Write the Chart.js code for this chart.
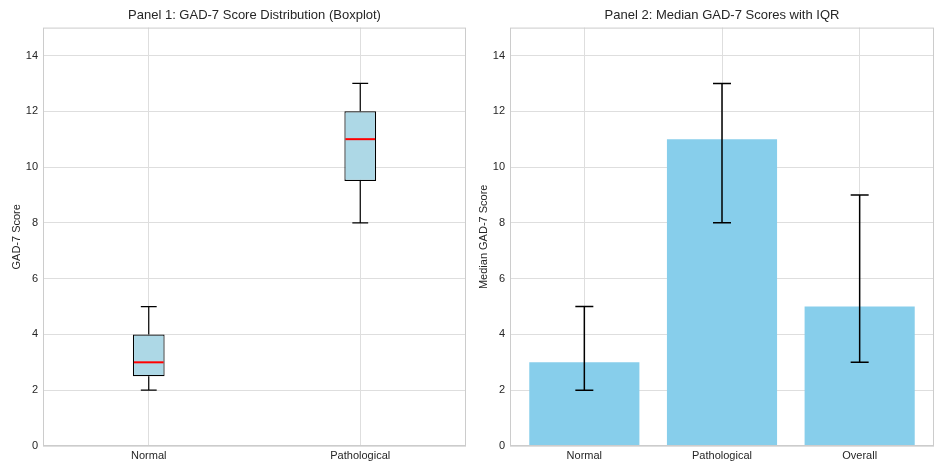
<!DOCTYPE html>
<html>
<head>
<meta charset="utf-8">
<script src="https://cdn.jsdelivr.net/npm/chart.js@4.4.1/dist/chart.umd.min.js"></script>
<style>
  html, body { margin: 0; padding: 0; background: #fff; }
  #wrap { position: relative; width: 945px; height: 473px; }
  #c1 { position: absolute; left: 0; top: 0; }
  #c2 { position: absolute; left: 472px; top: 0; }
</style>
</head>
<body>
<div id="wrap">
  <canvas id="c1" width="472" height="473"></canvas>
  <canvas id="c2" width="473" height="473"></canvas>
</div>
<script>
// Panel 1: boxplot values
const groups1 = ["Normal", "Pathological"];
const q1 = [2.5, 9.5];
const q3 = [4, 12];
const medians = [3, 11];
const whiskLow = [2, 8];
const whiskHigh = [5, 13];

// Panel 2: median scores with IQR
const groups2 = ["Normal", "Pathological", "Overall"];
const medianScores = [3, 11, 5];
const iqrLow = [2, 8, 3];
const iqrHigh = [5, 13, 9];

const yTicks = [0, 2, 4, 6, 8, 10, 12, 14];

Chart.defaults.font.family = "'Liberation Sans', Arial, sans-serif";
Chart.defaults.color = "#262626";

const gridColor = "#dedede";
const frameColor = "#cccccc";

// cadre complet autour de la zone de tracé
const framePlugin = {
    id: "frame",
    afterDraw(chart) {
        const { ctx, chartArea: a } = chart;
        ctx.save();
        ctx.strokeStyle = frameColor;
        ctx.lineWidth = 1;
        ctx.strokeRect(a.left + 0.5, a.top + 0.5, a.right - a.left - 1, a.bottom - a.top - 1);
        ctx.restore();
    }
};

function yScale(title, width, titlePad) {
    return {
        min: 0,
        max: 15,
        afterFit: s => { s.width = width; },
        afterBuildTicks: s => { s.ticks = yTicks.map(v => ({ value: v })); },
        ticks: { padding: 5, font: { size: 11 }, color: "#262626" },
        grid: { color: gridColor, drawTicks: false },
        border: { display: false },
        title: { display: true, text: title, font: { size: 11 }, color: "#262626", padding: { top: titlePad, bottom: 0 } }
    };
}

function titleOpts(text) {
    return {
        display: true,
        text: text,
        fullSize: false,
        font: { size: 13, weight: "normal" },
        color: "#262626",
        padding: { top: 8, bottom: 4 }
    };
}

// Moustaches et médiane du boxplot
const boxPlugin = {
    id: "boxExtras",
    afterDatasetsDraw(chart) {
        const { ctx } = chart;
        const y = chart.scales.y;
        const meta = chart.getDatasetMeta(0);
        ctx.save();
        meta.data.forEach((bar, i) => {
            const x = bar.x;
            const half = bar.width / 2;
            const cap = half / 2;
            ctx.strokeStyle = "#000";
            ctx.lineWidth = 1.2;
            ctx.beginPath();
            ctx.moveTo(x, y.getPixelForValue(q3[i]));
            ctx.lineTo(x, y.getPixelForValue(whiskHigh[i]));
            ctx.moveTo(x, y.getPixelForValue(q1[i]));
            ctx.lineTo(x, y.getPixelForValue(whiskLow[i]));
            ctx.moveTo(x - cap, y.getPixelForValue(whiskHigh[i]));
            ctx.lineTo(x + cap, y.getPixelForValue(whiskHigh[i]));
            ctx.moveTo(x - cap, y.getPixelForValue(whiskLow[i]));
            ctx.lineTo(x + cap, y.getPixelForValue(whiskLow[i]));
            ctx.stroke();
            ctx.strokeStyle = "#ff0000";
            ctx.lineWidth = 2;
            ctx.beginPath();
            ctx.moveTo(x - half + 1, y.getPixelForValue(medians[i]));
            ctx.lineTo(x + half - 1, y.getPixelForValue(medians[i]));
            ctx.stroke();
        });
        ctx.restore();
    }
};

// Barres d'erreur IQR
const errPlugin = {
    id: "errBars",
    afterDatasetsDraw(chart) {
        const { ctx } = chart;
        const y = chart.scales.y;
        const meta = chart.getDatasetMeta(0);
        ctx.save();
        ctx.strokeStyle = "#000";
        ctx.lineWidth = 1.5;
        meta.data.forEach((bar, i) => {
            const x = bar.x;
            const lo = y.getPixelForValue(iqrLow[i]);
            const hi = y.getPixelForValue(iqrHigh[i]);
            ctx.beginPath();
            ctx.moveTo(x, lo);
            ctx.lineTo(x, hi);
            ctx.moveTo(x - 9, lo);
            ctx.lineTo(x + 9, lo);
            ctx.moveTo(x - 9, hi);
            ctx.lineTo(x + 9, hi);
            ctx.stroke();
        });
        ctx.restore();
    }
};

new Chart(document.getElementById("c1").getContext("2d"), {
    type: "bar",
    data: {
        labels: groups1,
        datasets: [{
            data: groups1.map((g, i) => [q1[i], q3[i]]),
            backgroundColor: "#add8e6",
            borderColor: "#000",
            borderWidth: 1.2,
            borderSkipped: false,
            barPercentage: 0.15,
            categoryPercentage: 1
        }]
    },
    options: {
        responsive: false,
        animation: false,
        devicePixelRatio: 1,
        layout: { padding: { left: 0, right: 6, top: 0, bottom: 0 } },
        plugins: {
            legend: { display: false },
            tooltip: { enabled: false },
            title: titleOpts("Panel 1: GAD-7 Score Distribution (Boxplot)")
        },
        scales: {
            x: {
                offset: true,
                afterFit: s => { s.height = 27; },
                ticks: { padding: 3, font: { size: 11 }, color: "#262626" },
                grid: { color: gridColor, drawTicks: false, offset: false },
                border: { display: false }
            },
            y: yScale("GAD-7 Score", 43, 10)
        }
    },
    plugins: [boxPlugin, framePlugin]
});

new Chart(document.getElementById("c2").getContext("2d"), {
    type: "bar",
    data: {
        datasets: [{
            data: medianScores.map((v, i) => ({ x: i, y: v })),
            backgroundColor: "#87ceeb",
            borderWidth: 0,
            barPercentage: 0.8,
            categoryPercentage: 1
        }]
    },
    options: {
        responsive: false,
        animation: false,
        devicePixelRatio: 1,
        layout: { padding: { left: 0, right: 11, top: 0, bottom: 0 } },
        plugins: {
            legend: { display: false },
            tooltip: { enabled: false },
            title: titleOpts("Panel 2: Median GAD-7 Scores with IQR")
        },
        scales: {
            x: {
                type: "linear",
                min: -0.54,
                max: 2.54,
                offset: false,
                afterFit: s => { s.height = 27; },
                afterBuildTicks: s => { s.ticks = groups2.map((g, i) => ({ value: i })); },
                ticks: {
                    padding: 3,
                    font: { size: 11 },
                    color: "#262626",
                    callback: v => groups2[v]
                },
                grid: { color: gridColor, drawTicks: false, offset: false },
                border: { display: false }
            },
            y: yScale("Median GAD-7 Score", 38, 5)
        }
    },
    plugins: [errPlugin, framePlugin]
});
</script>
</body>
</html>
